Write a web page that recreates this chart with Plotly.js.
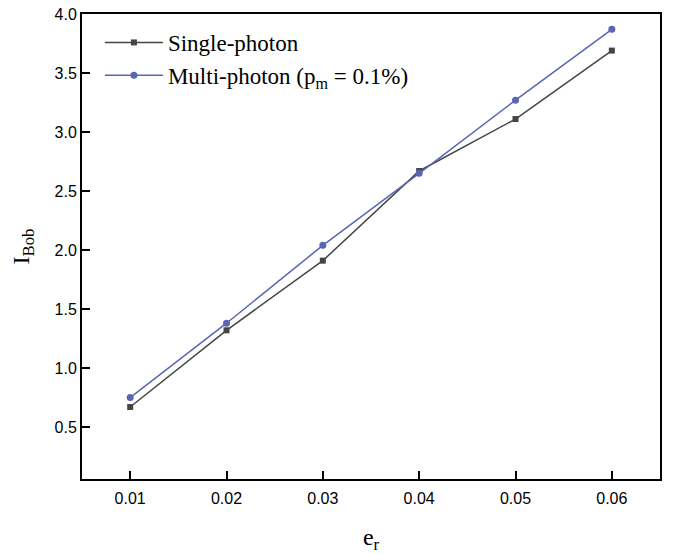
<!DOCTYPE html>
<html>
<head>
<meta charset="utf-8">
<script src="https://cdn.plot.ly/plotly-3.0.1.min.js"></script>
<style>html,body{margin:0;padding:0;background:#fff;}</style>
</head>
<body>
<div id="chart" style="width:673px;height:554px;"></div>
<script>
const er = [0.01, 0.02, 0.03, 0.04, 0.05, 0.06];
const singlePhoton = [0.67, 1.32, 1.91, 2.67, 3.11, 3.69];
const multiPhoton = [0.75, 1.38, 2.04, 2.65, 3.27, 3.87];
const xTicks = [0.01, 0.02, 0.03, 0.04, 0.05, 0.06];
const xTickText = ['0.01', '0.02', '0.03', '0.04', '0.05', '0.06'];
const yTicks = [0.5, 1.0, 1.5, 2.0, 2.5, 3.0, 3.5, 4.0];
const yTickText = ['0.5', '1.0', '1.5', '2.0', '2.5', '3.0', '3.5', '4.0'];

const traces = [
  {x: er, y: singlePhoton, name: 'Single-photon', mode: 'lines+markers', type: 'scatter',
   line: {color: '#454545', width: 1.5}, marker: {symbol: 'square', size: 6, color: '#454545'}},
  {x: er, y: multiPhoton, name: 'Multi-photon (p<sub>m</sub> = 0.1%)', mode: 'lines+markers', type: 'scatter',
   line: {color: '#5866b4', width: 1.5}, marker: {symbol: 'circle', size: 7, color: '#5866b4'}}
];

const axisCommon = {
  showline: true, linecolor: '#000', linewidth: 2, mirror: true,
  ticks: 'inside', ticklen: 8, tickwidth: 2, tickcolor: '#000',
  showgrid: false, zeroline: false,
  tickfont: {family: 'Liberation Sans, Arial, sans-serif', size: 16, color: '#000'}
};

const layout = {
  width: 673, height: 554,
  margin: {l: 82, r: 13, t: 14, b: 75},
  paper_bgcolor: '#fff', plot_bgcolor: '#fff',
  showlegend: true,
  legend: {x: 0.031, y: 0.985, xanchor: 'left', yanchor: 'top', bgcolor: 'rgba(0,0,0,0)',
    font: {family: 'Liberation Serif, Times New Roman, serif', size: 23, color: '#000'},
    tracegroupgap: 0, itemwidth: 58},
  xaxis: Object.assign({}, axisCommon, {
    range: [0.005, 0.065], tickmode: 'array', tickvals: xTicks, ticktext: xTickText,
    ticklabelstandoff: 4,
    title: {text: 'e<sub>r</sub>', font: {family: 'Liberation Serif, Times New Roman, serif', size: 24, color: '#000'}, standoff: 26}
  }),
  yaxis: Object.assign({}, axisCommon, {
    range: [0.06, 4.0], tickmode: 'array', tickvals: yTicks, ticktext: yTickText,
    title: {text: 'I<sub>Bob</sub>', font: {family: 'Liberation Serif, Times New Roman, serif', size: 24, color: '#000'}, standoff: 18}
  })
};

Plotly.newPlot('chart', traces, layout, {displayModeBar: false, staticPlot: true});
</script>
</body>
</html>
